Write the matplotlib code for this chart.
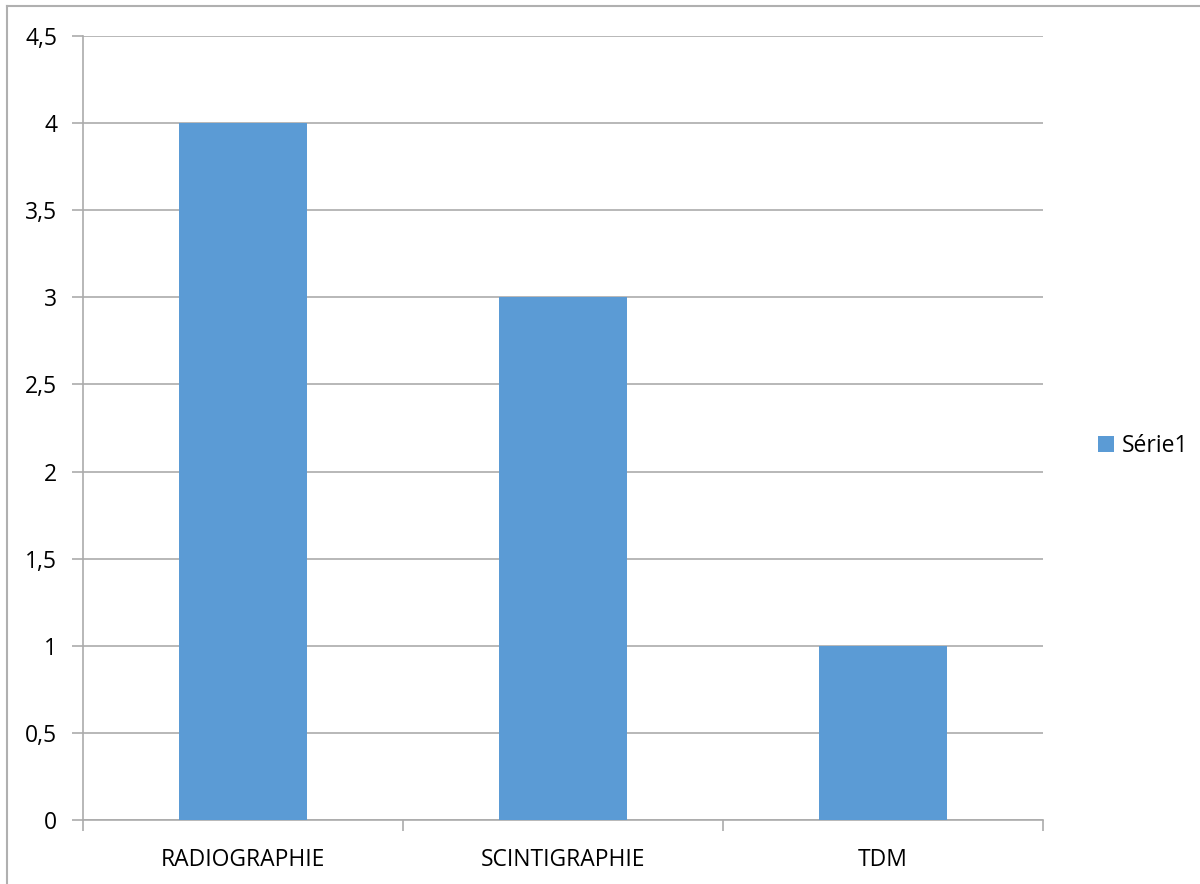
import matplotlib
matplotlib.use("Agg")
import matplotlib.pyplot as plt
from matplotlib.lines import Line2D
from matplotlib.patches import Patch
import numpy as np

categories = ["RADIOGRAPHIE", "SCINTIGRAPHIE", "TDM"]
values = [4, 3, 1]
series_name = "Série1"
yticks = [0, 0.5, 1, 1.5, 2, 2.5, 3, 3.5, 4, 4.5]
ytick_labels = ["0", "0,5", "1", "1,5", "2", "2,5", "3", "3,5", "4", "4,5"]

bar_color = "#5B9BD5"
grid_color = "#ABABAB"

plt.rcParams["font.family"] = ["Open Sans", "DejaVu Sans"]

fig = plt.figure(figsize=(12, 8.84), dpi=100)
ax = fig.add_axes([83 / 1200, 64 / 884, 960 / 1200, 784 / 884])

x = np.arange(len(categories))
ax.bar(x, values, width=0.4, color=bar_color, zorder=3)

ax.set_xlim(-0.5, len(categories) - 0.5)
ax.set_ylim(0, 4.5)
ax.set_yticks(yticks)
ax.set_yticklabels(ytick_labels)
ax.yaxis.grid(True, color=grid_color, linewidth=1.2, zorder=0)

# category labels centred under bars, tick marks at category boundaries
ax.set_xticks(x)
ax.set_xticklabels(categories)
ax.set_xticks(np.arange(len(categories) + 1) - 0.5, minor=True)
ax.tick_params(axis="x", which="major", length=0, pad=20, labelsize=16.5)
ax.tick_params(axis="x", which="minor", length=8, width=1.2, color=grid_color)
ax.tick_params(axis="y", length=8, width=1.2, color=grid_color, pad=10.5, labelsize=16.5)

for side in ["top", "right"]:
    ax.spines[side].set_visible(False)
ax.spines["left"].set_color(grid_color)
ax.spines["left"].set_linewidth(1.2)
ax.spines["bottom"].set_color(grid_color)
ax.spines["bottom"].set_linewidth(1.2)

handle = Patch(facecolor=bar_color, edgecolor="none")
fig.legend([handle], [series_name], loc="center left",
           bbox_to_anchor=(1077 / 1200, 1 - 446 / 884), frameon=False,
           fontsize=16.5, handlelength=0.7, handleheight=0.7, handletextpad=0.35)

# outer chart frame
fig.add_artist(Line2D([7 / 1200, 1], [1 - 6 / 884, 1 - 6 / 884], color="#B0B0B0", linewidth=1.5))
fig.add_artist(Line2D([7 / 1200, 7 / 1200], [0, 1 - 6 / 884], color="#B0B0B0", linewidth=1.5))

fig.savefig("out.png", dpi=100, facecolor="white")
